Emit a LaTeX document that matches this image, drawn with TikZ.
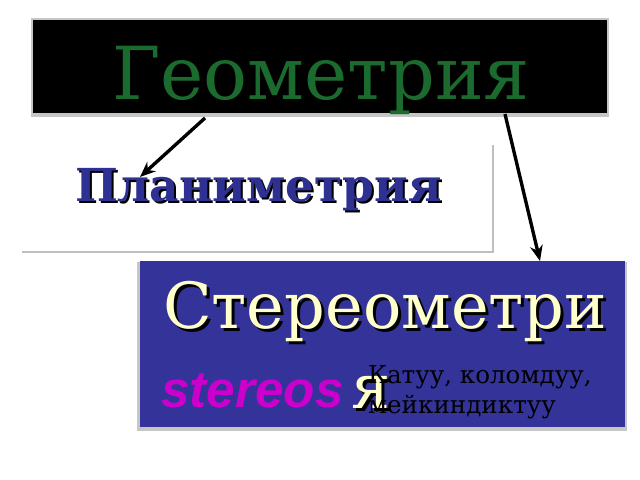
\documentclass[tikz,border=0pt]{standalone}
\usepackage{fontspec}
\setmainfont{DejaVu Serif}
\newfontfamily\arialfont{Liberation Sans}
\usepackage{tikz}
\usetikzlibrary{arrows.meta}

\definecolor{titlegreen}{HTML}{1B6B2E}
\definecolor{planblue}{HTML}{2E3192}
\definecolor{boxblue}{HTML}{333399}
\definecolor{cream}{HTML}{FFFFCC}
\definecolor{stermag}{HTML}{CC00CC}

\begin{document}
\begin{tikzpicture}[x=0.025cm, y=-0.025cm, every node/.style={inner sep=0pt, outer sep=0pt, anchor=base west}]
\useasboundingbox (0,0) rectangle (640,480);

% panels
\fill[gray!45] (31,18) rectangle (609,117);
\fill[black] (33,20) rectangle (607,113);
\draw[gray!50, line width=1.2pt] (22,252) -- (493,252) -- (493,145);
\fill[gray!45] (137,262) rectangle (627,431);
\fill[boxblue] (140,261) rectangle (625,427);

% titles
\node[text=titlegreen, font=\fontsize{52}{52}\selectfont] (geom) at (112,99) {Геометрия};

\node[text=black, font=\bfseries\fontsize{32.3}{33}\selectfont] (planshadow) at (77,203) {Планиметрия};
\node[text=planblue, font=\bfseries\fontsize{32.3}{33}\selectfont] (plan) at (75,201) {Планиметрия};

\node[text=black, font=\fontsize{45.3}{46}\selectfont] (stershadow) at (166,331) {Стереометри};
\node[text=cream, font=\fontsize{45.3}{46}\selectfont] (ster) at (163,328) {Стереометри};

\node[text=stermag, font=\arialfont\bfseries\itshape\fontsize{36.5}{37}\selectfont] (latin) at (161,407) {stereos};
\node[text=black, font=\fontsize{44}{44}\selectfont] (yashadow) at (354,411) {я};
\node[text=cream, font=\fontsize{44}{44}\selectfont] (ya) at (351,408) {я};

\node[text=black, font=\fontsize{17.5}{21}\selectfont, align=left] (note) at (368,413) {Катуу, коломдуу,\\мейкиндиктуу};

% arrows
\coordinate (g1) at (205,118);
\coordinate (g2) at (505,114);
\coordinate (p1) at (140,177);
\coordinate (s1) at (540,261);
\draw[line width=2.4pt, -{Stealth[length=11pt,width=9pt]}] (g1) -- (p1);
\draw[line width=2.4pt, -{Stealth[length=11pt,width=9pt]}] (g2) -- (s1);
\end{tikzpicture}
\end{document}
